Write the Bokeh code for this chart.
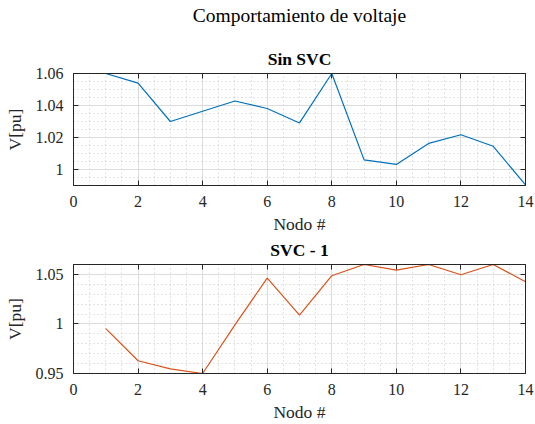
from bokeh.plotting import figure
from bokeh.layouts import column
from bokeh.models import (Title, LinearAxis, SingleIntervalTicker, CustomJSTickFormatter,
                          Range1d)
from bokeh.embed import file_html
from bokeh.resources import INLINE

nodes = list(range(1, 15))
v_sin_svc = [1.060, 1.054, 1.030, 1.0364, 1.0428, 1.0381, 1.0291, 1.060,
             1.006, 1.0032, 1.0163, 1.0217, 1.0145, 0.9904]
v_svc_1 = [0.9953, 0.9629, 0.9547, 0.950, 0.999, 1.0462, 1.009, 1.0487,
           1.060, 1.0543, 1.060, 1.0497, 1.060, 1.0425]

main_title = "Comportamiento de voltaje"
sub_titles = ["Sin SVC", "SVC - 1"]
x_label = "Nodo #"
y_label = "V[pu]"

FONT = "Liberation Serif"
DARK = "#262626"
fmt = CustomJSTickFormatter(code="return String(parseFloat(tick.toFixed(4)));")
blank = CustomJSTickFormatter(code="return '';")


def make_panel(y, color, y_range, y_interval, y_minor, sub, height, top_border, bottom_border):
    p = figure(width=535, height=height, x_range=Range1d(0, 14), y_range=Range1d(*y_range),
               output_backend="svg", toolbar_location=None, title=None,
               min_border_left=73, min_border_right=10, min_border_top=top_border,
               min_border_bottom=bottom_border)
    p.outline_line_color = DARK
    p.outline_line_width = 1
    p.background_fill_color = "white"
    p.border_fill_color = "white"

    xt = SingleIntervalTicker(interval=2, num_minor_ticks=4)
    yt = SingleIntervalTicker(interval=y_interval, num_minor_ticks=y_minor)

    p.xaxis.ticker = xt
    p.yaxis.ticker = yt
    p.yaxis.formatter = fmt
    for ax in (p.xaxis[0], p.yaxis[0]):
        ax.axis_line_color = DARK
        ax.major_tick_line_color = DARK
        ax.major_tick_in = 5
        ax.major_tick_out = 0
        ax.minor_tick_line_color = None
        ax.major_label_text_font = FONT
        ax.major_label_text_font_size = "16px"
        ax.major_label_text_color = DARK
        ax.axis_label_text_font = FONT
        ax.axis_label_text_font_size = "17.5px"
        ax.axis_label_text_font_style = "normal"
        ax.axis_label_text_color = DARK
    p.xaxis.axis_label = x_label
    p.yaxis.axis_label = y_label
    p.xaxis.major_label_standoff = 6
    p.xaxis.axis_label_standoff = 4
    p.yaxis.major_label_standoff = 6
    p.yaxis.axis_label_standoff = 8

    # box ticks on right and top
    ra = LinearAxis(ticker=yt, formatter=blank, major_label_text_font_size="8px",
                    major_label_standoff=0,
                    axis_line_color=DARK, major_tick_line_color=DARK, major_tick_in=5,
                    major_tick_out=0, minor_tick_line_color=None)
    ta = LinearAxis(ticker=xt, formatter=blank, major_label_text_font_size="8px",
                    major_label_standoff=0,
                    axis_line_color=DARK, major_tick_line_color=DARK, major_tick_in=5,
                    major_tick_out=0, minor_tick_line_color=None)
    p.add_layout(ra, "right")
    p.add_layout(ta, "above")

    for g in (p.xgrid[0], p.ygrid[0]):
        g.grid_line_color = "#dcdcdc"
        g.grid_line_width = 1
        g.minor_grid_line_color = "#c8c8c8"
        g.minor_grid_line_dash = "1 3"
        g.minor_grid_line_width = 1

    p.line(nodes, y, line_color=color, line_width=1.2)

    p.add_layout(Title(text=sub, align="center", text_font=FONT, text_font_size="17.5px",
                       text_font_style="bold", text_color="black", standoff=2), "above")
    return p


head = figure(width=535, height=38, output_backend="svg", toolbar_location=None,
              title=None, x_axis_type=None, y_axis_type=None,
              min_border_left=73, min_border_right=10, min_border_top=3, min_border_bottom=0)
head.outline_line_color = None
head.grid.visible = False
head.background_fill_color = "white"
head.border_fill_color = "white"
head.add_layout(Title(text=main_title, align="center", text_font=FONT,
                      text_font_size="19.5px", text_font_style="normal",
                      text_color="black", standoff=4, offset=-24), "above")

p1 = make_panel(v_sin_svc, "#0072BD", (0.99, 1.06), 0.02, 4, sub_titles[0], 198, 35, 47)
p2 = make_panel(v_svc_1, "#D95319", (0.95, 1.06), 0.05, 5, sub_titles[1], 188, 27, 45)

layout = column(head, p1, p2, spacing=0)

html = file_html(layout, INLINE)
open("out.html", "w").write(html)
